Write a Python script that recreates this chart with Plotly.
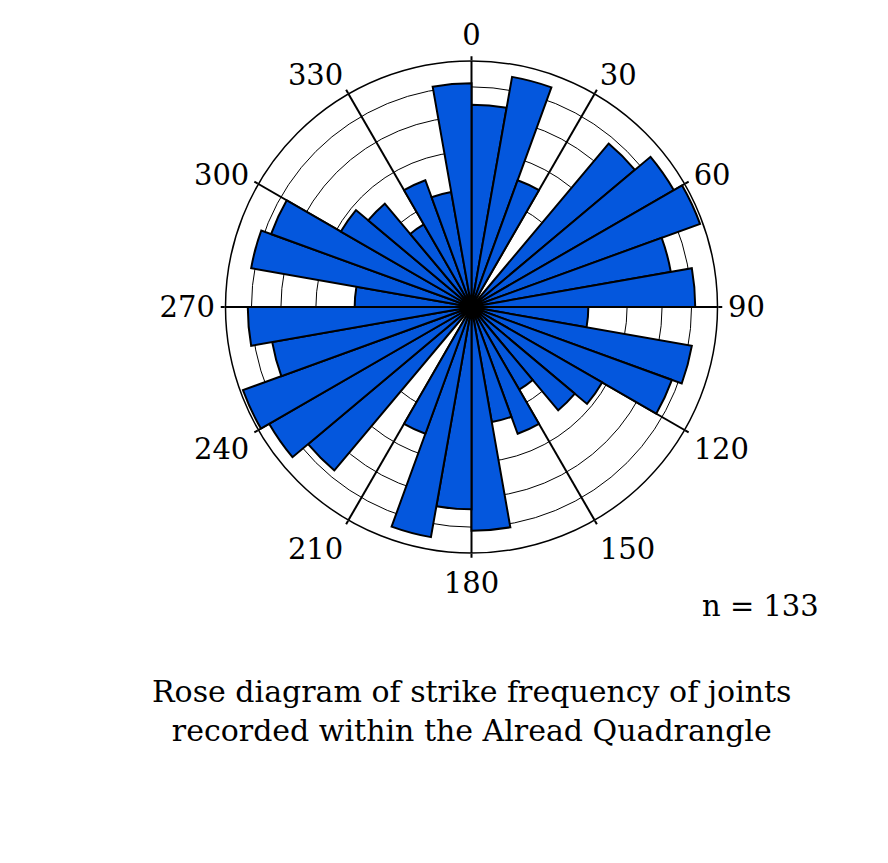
import numpy as np
import plotly.graph_objects as go

# 10-degree strike bins (start angle) and joint counts (bidirectional -> mirrored at +180)
bin_starts = list(range(0, 180, 10))
counts = [9, 12, 4, 0, 10, 12, 13, 9, 11, 3, 11, 10, 5, 4, 2, 4, 3, 11]
n_total = 133
tick_vals = list(range(0, 360, 30))
tick_text = [str(v) for v in tick_vals]
ring_percents = [2, 4, 6, 8, 10]

# full circle: strike bins mirrored
theta_centers = [b + 5 for b in bin_starts] + [b + 185 for b in bin_starts]
all_counts = counts + counts
percents = np.array(all_counts) / n_total * 100.0
# equal-area rose: radius proportional to sqrt(frequency)
r_vals = np.sqrt(percents)

FONT = "DejaVu Serif"
W, H = 888, 863
OFF = 8  # page body margin


def px_x(x):
    return (x - OFF) / W


def px_y(y):
    return 1 - (y - OFF) / H


fig = go.Figure()
fig.add_trace(go.Barpolar(
    r=r_vals,
    theta=theta_centers,
    width=[10] * len(theta_centers),
    marker=dict(color="#0457DD", line=dict(color="black", width=2)),
    hoverinfo="skip",
))

cx, cy, R = 471.5, 307, 246
fig.update_layout(
    width=W, height=H,
    margin=dict(l=0, r=0, t=0, b=0),
    paper_bgcolor="white",
    showlegend=False,
    polar=dict(
        domain=dict(x=[px_x(cx - R), px_x(cx + R)], y=[px_y(cy + R), px_y(cy - R)]),
        bgcolor="white",
        angularaxis=dict(
            rotation=90, direction="clockwise",
            tickmode="array", tickvals=tick_vals, ticktext=tick_text,
            showgrid=True, gridcolor="black", gridwidth=2,
            ticks="outside", ticklen=4, tickwidth=2, tickcolor="black",
            showline=True, linecolor="black", linewidth=1.5,
            tickfont=dict(family=FONT, size=29, color="black"),
        ),
        radialaxis=dict(
            range=[0, np.sqrt(10)],
            tickmode="array", tickvals=list(np.sqrt(ring_percents)),
            showticklabels=False, ticks="", showline=False,
            showgrid=True, gridcolor="black", gridwidth=1,
        ),
    ),
    annotations=[
        dict(text="n = 133", x=px_x(760), y=px_y(606), xref="paper", yref="paper",
             showarrow=False, font=dict(family=FONT, size=29, color="black"),
             xanchor="center", yanchor="middle"),
        dict(text="Rose diagram of strike frequency of joints<br>recorded within the Alread Quadrangle",
             x=px_x(471.5), y=px_y(711), xref="paper", yref="paper",
             showarrow=False, font=dict(family=FONT, size=30, color="black"),
             xanchor="center", yanchor="middle", align="center"),
    ],
)

fig.write_html("out.html")
